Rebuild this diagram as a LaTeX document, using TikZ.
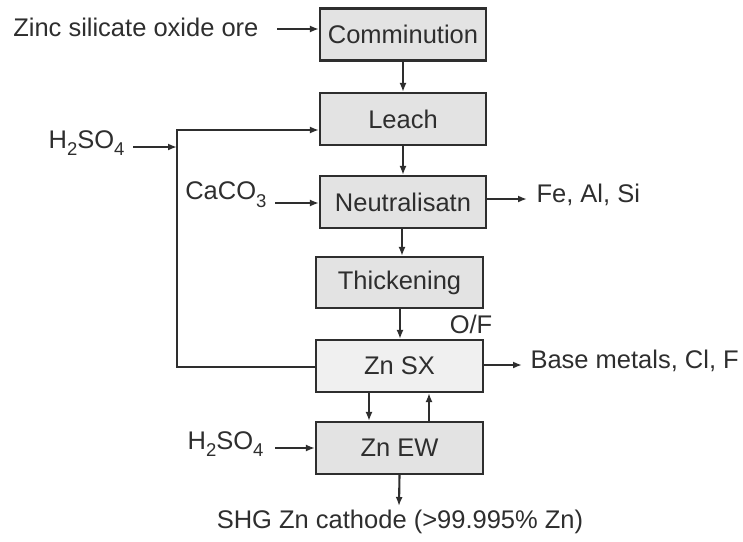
\documentclass[tikz,border=0pt]{standalone}
\usepackage{fontspec}
\setmainfont{Liberation Sans}
\usetikzlibrary{arrows.meta}
\definecolor{ink}{HTML}{2E2E2E}
\definecolor{boxfill}{HTML}{E3E3E3}
\definecolor{sxfill}{HTML}{F0F0F0}
\newcommand{\sbs}[1]{\raisebox{-0.3em}{\fontsize{18.5}{18.5}\selectfont #1}}
\begin{document}
\begin{tikzpicture}[x=1pt,y=-1pt,
  every node/.style={text=ink,font=\fontsize{25.5}{30}\selectfont},
  procbox/.style={draw=ink,line width=2.1pt,fill=boxfill,minimum width=166pt,minimum height=52pt,inner sep=0pt},
  flow/.style={draw=ink,line width=2.1pt,-{Latex[length=9pt,width=7pt]}}]
\useasboundingbox (0,0) rectangle (743,541);
% boxes
\node[procbox] (comm) at (403,34.5) {Comminution};
\node[procbox] (leach) at (403,119) {Leach};
\node[procbox] (neut) at (403,202) {Neutralisatn};
\node[procbox,minimum width=167pt,minimum height=51pt] (thick) at (399.5,282.5) {Thickening};
\node[procbox,minimum width=167pt,fill=sxfill] (sx) at (399.5,366) {Zn SX};
\node[procbox,minimum width=167pt] (ew) at (399.5,448) {Zn EW};
% labels
\node[anchor=east] (ore) at (262,27) {Zinc silicate oxide ore};
\node[anchor=east] (acid1) at (128,143) {H\sbs{2}SO\sbs{4}};
\node[anchor=east] (caco) at (270,195) {CaCO\sbs{3}};
\node[anchor=west] (fe) at (533,195) {Fe, Al, Si};
\node (of) at (471,324) {O/F};
\node[anchor=west] (base) at (527,361) {Base metals, Cl, F};
\node[anchor=east] (acid2) at (267,444) {H\sbs{2}SO\sbs{4}};
\node (shg) at (400,522) {SHG Zn cathode (>99.995\% Zn)};
% helper coordinates
\coordinate (oreS) at (277,29);
\coordinate (oreE) at (comm.west |- oreS);
\coordinate (a1S) at (133,147);
\coordinate (a1E) at (177,147);
\coordinate (recTop) at (177,130);
\coordinate (recBot) at (177,367);
\coordinate (leachIn) at (leach.west |- recTop);
\coordinate (sxOut) at (sx.west |- recBot);
\coordinate (caS) at (275,203);
\coordinate (caE) at (neut.west |- caS);
\coordinate (feS) at (neut.east |- 0,199);
\coordinate (feE) at (527,199);
\coordinate (baseS) at (sx.east |- 0,365);
\coordinate (baseE) at (522,365);
\coordinate (a2S) at (275,448);
\coordinate (a2E) at (ew.west |- a2S);
\coordinate (shgE) at (399,506);
% connectors
\draw[flow] (oreS) -- (oreE);
\draw[flow] (comm.south) -- (leach.north);
\draw[flow] (a1S) -- (a1E);
\draw[flow] (sxOut) -- (recBot) -- (recTop) -- (leachIn);
\draw[flow] (leach.south) -- (neut.north);
\draw[flow] (caS) -- (caE);
\draw[flow] (feS) -- (feE);
\draw[flow] (neut.south -| 402,0) -- (thick.north -| 402,0);
\draw[flow] (thick.south -| 400,0) -- (sx.north -| 400,0);
\draw[flow] (baseS) -- (baseE);
\draw[flow] (sx.south -| 369,0) -- (ew.north -| 369,0);
\draw[flow] (ew.north -| 429,0) -- (sx.south -| 429,0);
\draw[flow] (a2S) -- (a2E);
\draw[flow] (ew.south) -- (shgE);
\end{tikzpicture}
\end{document}
